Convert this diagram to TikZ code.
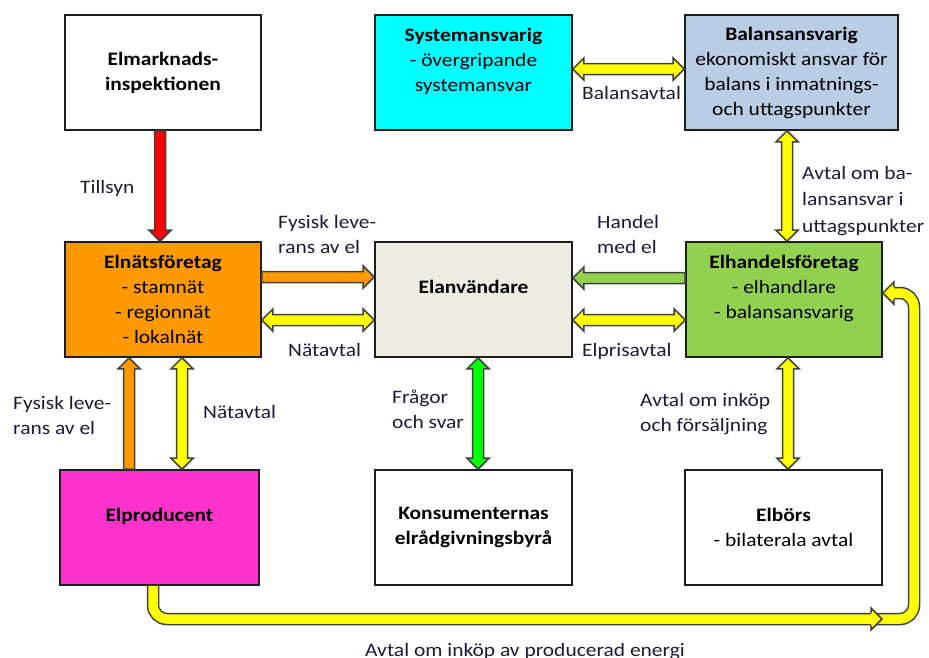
\documentclass[tikz,border=0pt]{standalone}
\usepackage{fontspec}
\setmainfont{Carlito}[FakeStretch=1.13]
\usetikzlibrary{calc}

\definecolor{boxline}{HTML}{1E1E1E}
\definecolor{arrowline}{HTML}{404040}
\definecolor{labeltext}{HTML}{1E1B3A}
\definecolor{netorange}{HTML}{FF9900}
\definecolor{tradegreen}{HTML}{92D050}
\definecolor{prodpink}{HTML}{FF33CC}
\definecolor{syscyan}{HTML}{00FFFF}
\definecolor{balblue}{HTML}{B9CDE5}
\definecolor{userbeige}{HTML}{EEECE1}
\definecolor{fatyellow}{HTML}{FFFF00}
\definecolor{brightgreen}{HTML}{00FF00}

\newdimen\faXa \newdimen\faYa \newdimen\faXb \newdimen\faYb

% block arrow between two points; #4 = 1 (one head) or 2 (two heads)
\newcommand\fatarrow[4][]{%
  \path (#2) coordinate (fa-a) (#3) coordinate (fa-b);
  \pgfextractx{\faXa}{\pgfpointanchor{fa-a}{center}}%
  \pgfextracty{\faYa}{\pgfpointanchor{fa-a}{center}}%
  \pgfextractx{\faXb}{\pgfpointanchor{fa-b}{center}}%
  \pgfextracty{\faYb}{\pgfpointanchor{fa-b}{center}}%
  \pgfmathsetmacro\faang{atan2(\faYb-\faYa,\faXb-\faXa)}%
  \pgfmathsetmacro\falen{veclen(\faXb-\faXa,\faYb-\faYa)}%
  \begin{scope}[shift={(\faXa,\faYa)}, rotate=\faang]
    \ifnum#4=2
      \filldraw[blockarrow,#1] (11,5.5) -- ({\falen-11},5.5) -- ({\falen-11},11)
        -- (\falen,0) -- ({\falen-11},-11) -- ({\falen-11},-5.5) -- (11,-5.5)
        -- (11,-11) -- (0,0) -- (11,11) -- cycle;
    \else
      \filldraw[blockarrow,#1] (0,5.5) -- ({\falen-11},5.5) -- ({\falen-11},11)
        -- (\falen,0) -- ({\falen-11},-11) -- ({\falen-11},-5.5) -- (0,-5.5) -- cycle;
    \fi
  \end{scope}}

% arrow head alone, for the bent connectors: tip at #2, pointing at angle #3
\newcommand\fathead[3][]{%
  \begin{scope}[shift={(#2)}, rotate=#3]
    \fill[#1] (-11,6.25) -- (-11,11) -- (0,0) -- (-11,-11) -- (-11,-6.25) -- cycle;
    \draw[blockarrow] (-11,6.25) -- (-11,11) -- (0,0) -- (-11,-11) -- (-11,-6.25);
  \end{scope}}

\tikzset{
  box/.style={draw=boxline, line width=1.6pt, minimum width=196, minimum height=115,
    align=center, inner sep=0pt, text=black,
    font=\fontsize{19}{25}\selectfont},
  lbl/.style={align=left, inner sep=0pt, anchor=base west, text=labeltext,
    font=\fontsize{19}{25}\selectfont},
  blockarrow/.style={draw=arrowline, line width=1.5pt, line join=miter},
  bentouter/.style={draw=arrowline, line width=12.5pt, rounded corners=14pt},
  bentinner/.style={draw=fatyellow, line width=9.5pt, rounded corners=14pt},
}

\begin{document}
\begin{tikzpicture}[x=1pt, y=1pt]
\useasboundingbox (0,0) rectangle (929,-657);
\fill[white] (0,0) rectangle (929,-657);

% --- actors
\node[box] (insp) at (163,-72.5) {\textbf{Elmarknads-}\\\textbf{inspektionen}};
\node[box, fill=syscyan, minimum width=197] (sys) at (473.5,-72.5)
  {\textbf{Systemansvarig}\\- övergripande\\systemansvar\\\mbox{}};
\node[box, fill=balblue, minimum width=213] (bal) at (791.5,-72.5)
  {\textbf{Balansansvarig}\\ekonomiskt ansvar för\\balans i inmatnings-\\och uttagspunkter};
\node[box, fill=netorange] (net) at (163,-299.5)
  {\textbf{Elnätsföretag}\\- stamnät\\- regionnät\\- lokalnät};
\node[box, fill=userbeige, minimum width=197] (anv) at (473.5,-299.5)
  {\textbf{Elanvändare}\\\mbox{}};
\node[box, fill=tradegreen] (han) at (784,-299.5)
  {\textbf{Elhandelsföretag}\\- elhandlare\\- balansansvarig\\\mbox{}};
\node[box, fill=prodpink, minimum width=199] (prod) at (159.5,-527.5)
  {\textbf{Elproducent}\\\mbox{}};
\node[box, minimum width=197] (kons) at (473.5,-527.5)
  {\textbf{Konsumenternas}\\\textbf{elrådgivningsbyrå}};
\node[box, minimum width=197] (bors) at (783.5,-527.5)
  {\textbf{Elbörs}\\- bilaterala avtal};

% --- straight connectors
\fatarrow[fill=red]{[xshift=-3]insp.south}{[xshift=-3]net.north}{1}
\fatarrow[fill=netorange]{[yshift=22.5]net.east}{[yshift=22.5]anv.west}{1}
\fatarrow[fill=fatyellow]{[yshift=-20.5]net.east}{[yshift=-20.5]anv.west}{2}
\fatarrow[fill=tradegreen]{[yshift=21.5]han.west}{[yshift=21.5]anv.east}{1}
\fatarrow[fill=fatyellow]{[yshift=-20.5]anv.east}{[yshift=-20.5]han.west}{2}
\fatarrow[fill=fatyellow]{[yshift=3.5]sys.east}{[yshift=3.5]bal.west}{2}
\fatarrow[fill=fatyellow]{[xshift=-4.5]bal.south}{[xshift=3]han.north}{2}
\fatarrow[fill=netorange]{[xshift=-30.5]prod.north}{[xshift=-34]net.south}{1}
\fatarrow[fill=fatyellow]{[xshift=22.5]prod.north}{[xshift=19]net.south}{2}
\fatarrow[fill=brightgreen]{[xshift=4.5]anv.south}{[xshift=4.5]kons.north}{2}
\fatarrow[fill=fatyellow]{[xshift=4]han.south}{[xshift=4.5]bors.north}{2}

% --- bent connector: producer -> round the right side -> trader
\coordinate (lowjoin) at (882,-619);
\draw[bentouter] ([xshift=-10]lowjoin) -- ++(42,0) |- ([xshift=11,yshift=6.5]han.east);
\draw[bentinner] ([xshift=-10]lowjoin) -- ++(42,0) |- ([xshift=11,yshift=6.5]han.east);
\fathead[fill=fatyellow]{[yshift=6.5]han.east}{180}
\draw[bentouter] ([xshift=-6.5]prod.south) |- ([xshift=-11]lowjoin);
\draw[bentinner] ([xshift=-6.5]prod.south) |- ([xshift=-11]lowjoin);
\fathead[fill=fatyellow]{lowjoin}{0}

% --- connector labels (anchor = baseline of the last line)
\node[lbl] (l-tillsyn) at (80,-193) {Tillsyn};
\node[lbl] (l-fys1) at (278,-253) {Fysisk leve-\\rans av el};
\node[lbl] (l-nat1) at (288,-356) {Nätavtal};
\node[lbl] (l-handel) at (597,-253) {Handel\\med el};
\node[lbl] (l-elpris) at (582,-356) {Elprisavtal};
\node[lbl] (l-balans) at (582,-99) {Balansavtal};
\node[lbl, font=\fontsize{19}{26.5}\selectfont] (l-balavt) at (802,-232)
  {Avtal om ba-\\lansansvar i\\uttagspunkter};
\node[lbl] (l-fys2) at (13,-434) {Fysisk leve-\\rans av el};
\node[lbl] (l-nat2) at (203,-418) {Nätavtal};
\node[lbl] (l-fragor) at (392,-428) {Frågor\\och svar};
\node[lbl] (l-inkop) at (640,-431) {Avtal om inköp\\och försäljning};
\node[lbl] (l-energi) at (365,-656) {Avtal om inköp av producerad energi};
\end{tikzpicture}
\end{document}
